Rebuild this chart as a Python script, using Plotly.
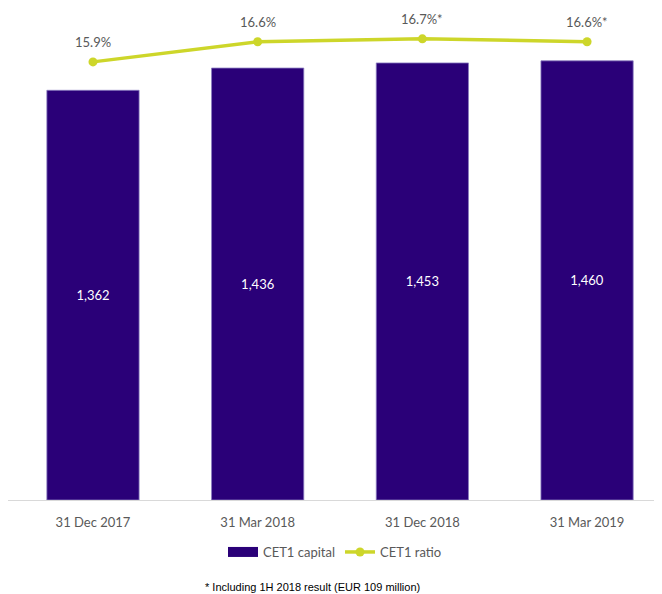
import plotly.graph_objects as go

categories = ["31 Dec 2017", "31 Mar 2018", "31 Dec 2018", "31 Mar 2019"]
cet1_capital = [1362, 1436, 1453, 1460]
cet1_ratio = [15.9, 16.6, 16.7, 16.6]
ratio_labels = ["15.9%", "16.6%", "16.7%*", "16.6%*"]
capital_labels = ["1,362", "1,436", "1,453", "1,460"]
footnote = "* Including 1H 2018 result (EUR 109 million)"

BAR_COLOR = "#2a0078"
LINE_COLOR = "#cdd62a"
TEXT_GRAY = "#595959"
FONT = "Lato"

W, H = 654, 586  # page has an 8px body margin

fig = go.Figure()
fig.add_trace(go.Bar(
    x=categories, y=cet1_capital, name="CET1 capital",
    marker=dict(color=BAR_COLOR, line=dict(color="#8a7cc0", width=0.8)),
    width=0.56, showlegend=False,
    text=capital_labels, textposition="inside", insidetextanchor="middle",
    textfont=dict(color="#ffffff", size=13, family=FONT),
    hoverinfo="skip",
))
# legend-only entry that gives a wide rectangular swatch like the reference
fig.add_trace(go.Scatter(
    x=[None], y=[None], name="CET1 capital", mode="lines",
    line=dict(color=BAR_COLOR, width=10), hoverinfo="skip",
))
fig.add_trace(go.Scatter(
    x=categories, y=cet1_ratio, name="CET1 ratio", yaxis="y2",
    mode="lines+markers",
    line=dict(color=LINE_COLOR, width=3.5),
    marker=dict(color=LINE_COLOR, size=9),
    hoverinfo="skip",
))

for c, v, t in zip(categories, cet1_ratio, ratio_labels):
    fig.add_annotation(x=c, y=v, xref="x", yref="y2", text=t, showarrow=False,
                       yshift=20, font=dict(size=13, color=TEXT_GRAY, family=FONT))

fig.add_annotation(text=footnote, xref="paper", yref="paper", x=0.465, y=-0.1776,
                   xanchor="center", yanchor="middle", showarrow=False,
                   font=dict(size=11, color="#000000", family="Liberation Sans"))

fig.update_layout(
    width=W, height=H,
    margin=dict(l=0, r=0, t=2, b=94),
    paper_bgcolor="white", plot_bgcolor="white",
    font=dict(family=FONT, color=TEXT_GRAY, size=13),
    showlegend=True,
    legend=dict(orientation="h", xref="container", yref="container",
                x=0.5, y=1 - 544 / H, xanchor="center", yanchor="middle",
                font=dict(size=13, color=TEXT_GRAY, family=FONT),
                traceorder="normal"),
    xaxis=dict(range=[-0.516, 3.455], showline=True, linecolor="#d9d9d9", linewidth=1,
               ticks="outside", ticklen=10, tickcolor="rgba(0,0,0,0)",
               tickfont=dict(size=13, color=TEXT_GRAY, family=FONT),
               showgrid=False, zeroline=False, fixedrange=True),
    yaxis=dict(range=[0, 1629], visible=False, showgrid=False, zeroline=False),
    yaxis2=dict(range=[0.7, 17.7], overlaying="y", side="right", visible=False,
                showgrid=False, zeroline=False),
)

fig.write_html("out.html")
